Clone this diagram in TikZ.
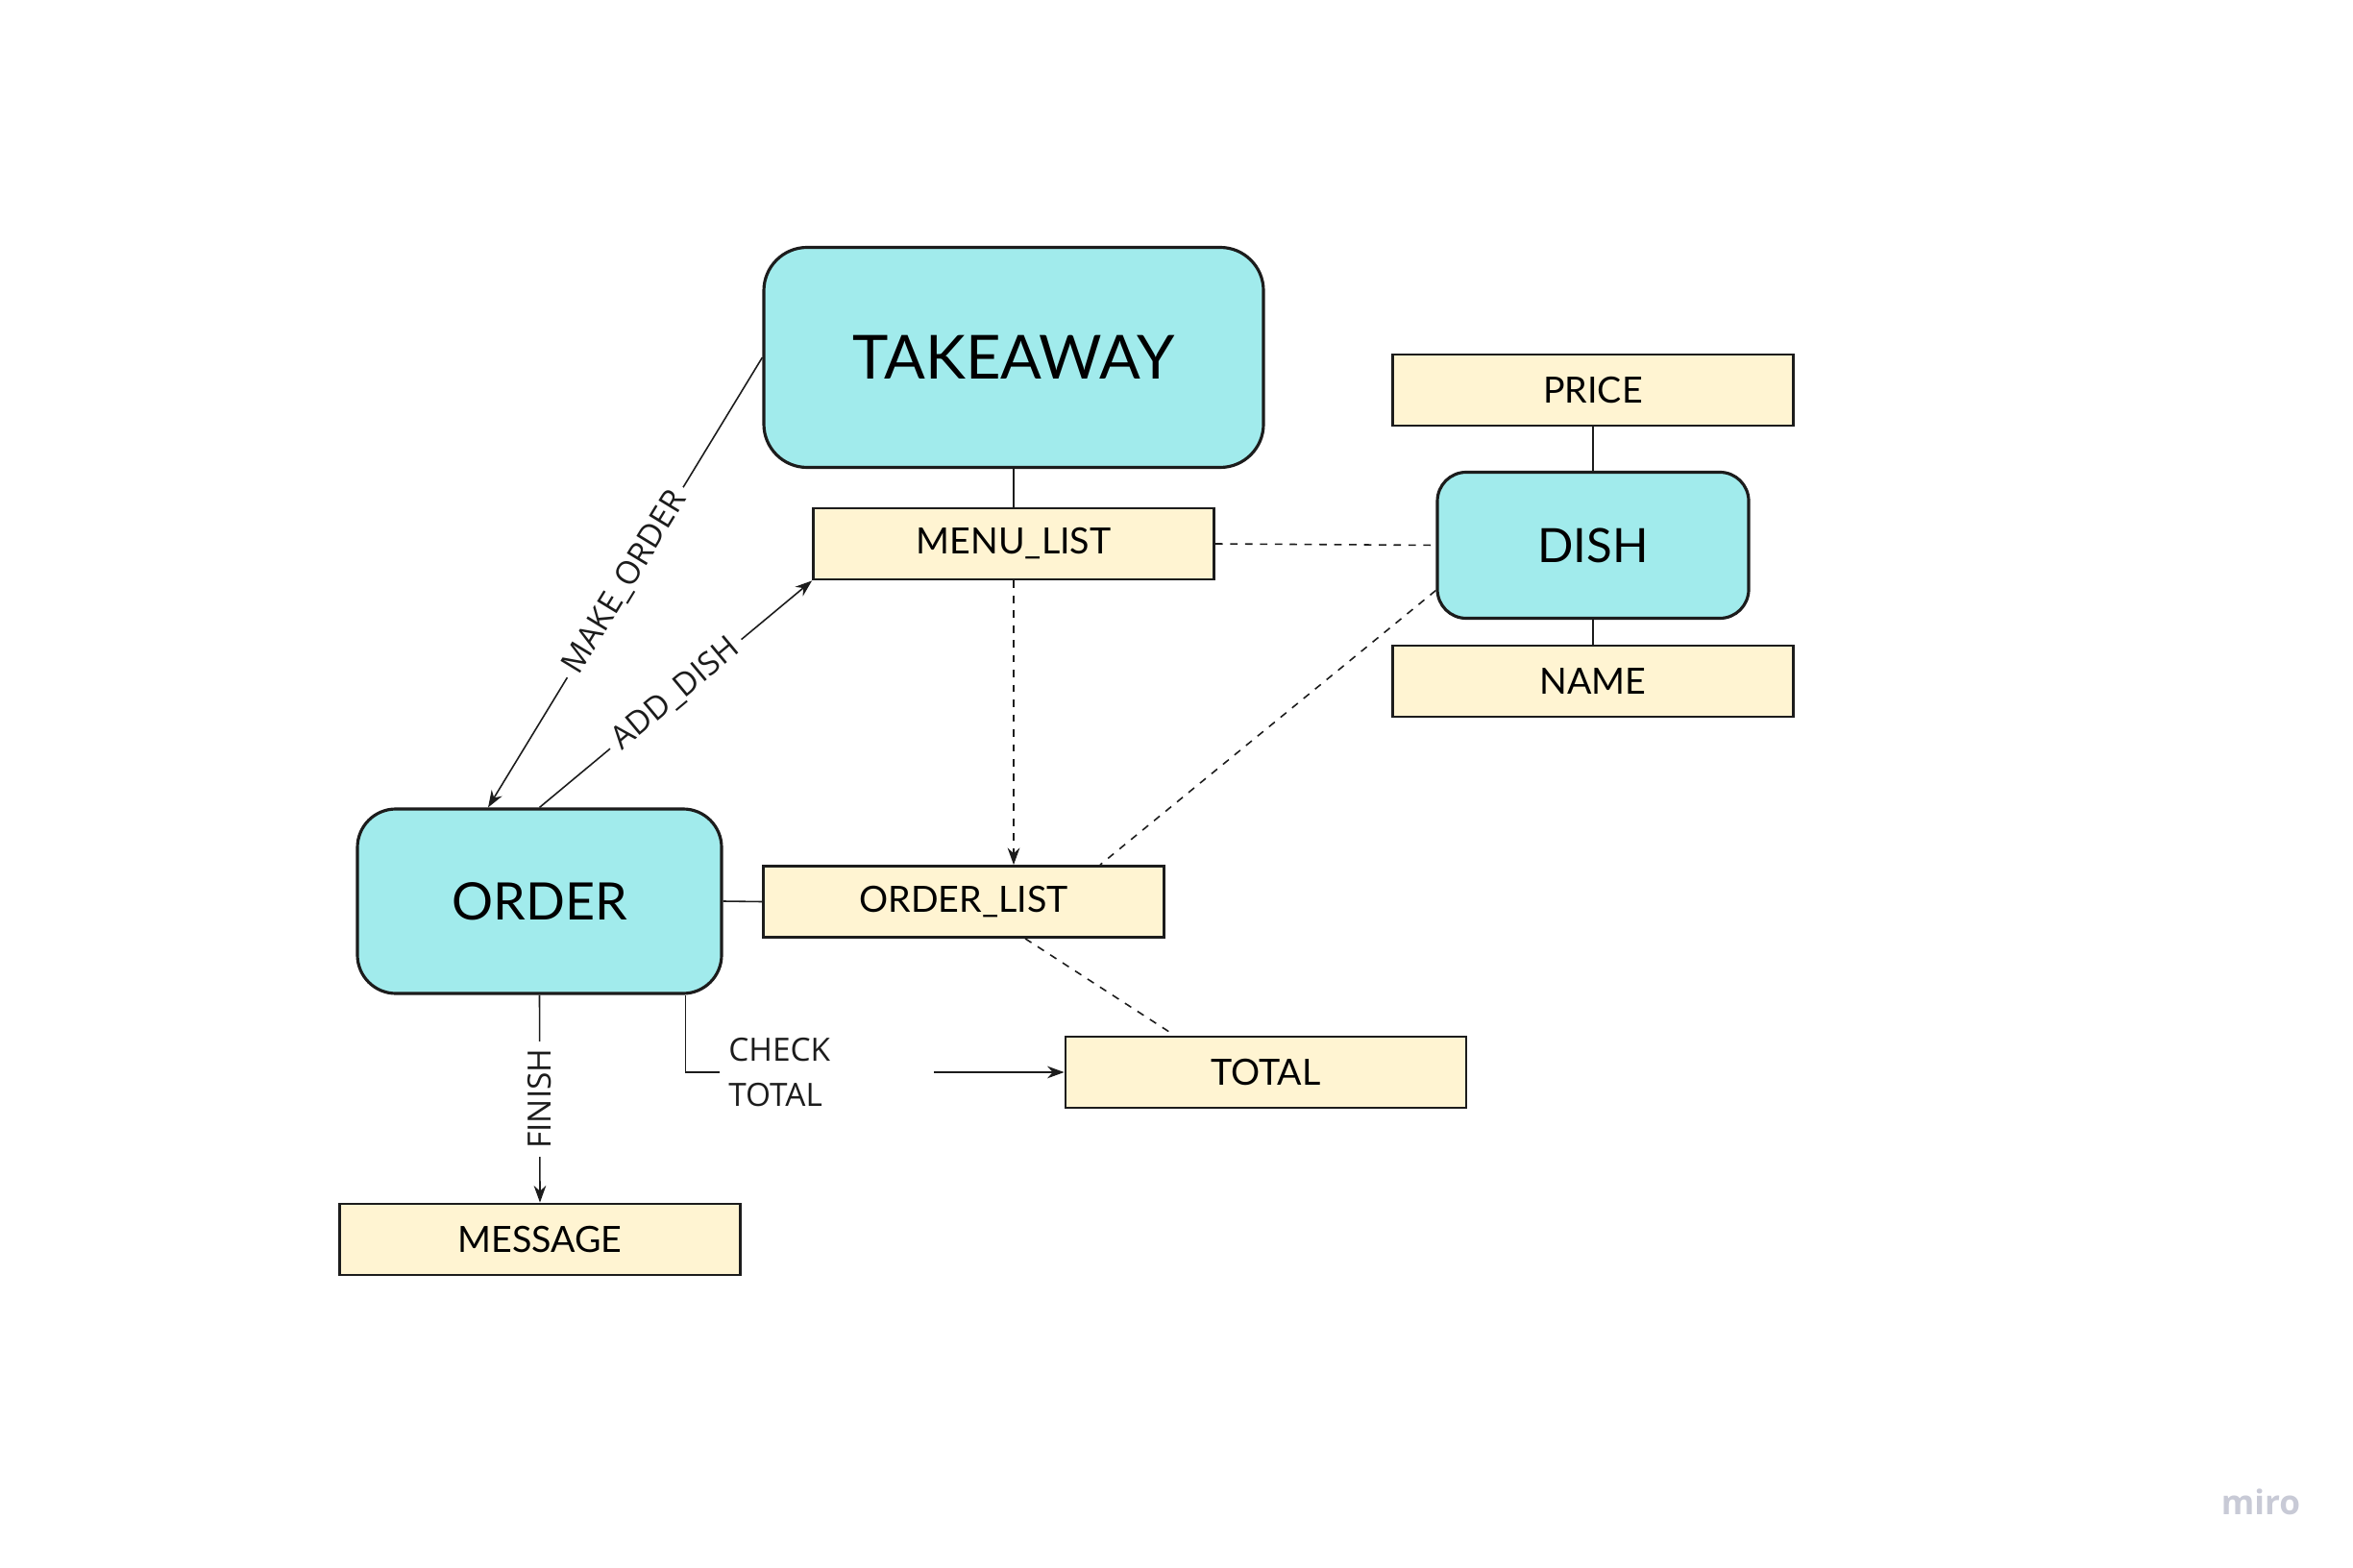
\documentclass[tikz,border=0pt]{standalone}
\usepackage{fontspec}
\setmainfont{Open Sans}
\newfontfamily\boxfont{Lato}
\usepackage{tikz}
\usetikzlibrary{arrows.meta, calc}

\definecolor{entitycyan}{RGB}{161,235,236}
\definecolor{fieldcream}{RGB}{255,244,210}
\definecolor{edgegray}{RGB}{28,28,28}
\definecolor{mirogray}{RGB}{200,202,214}

\begin{document}
\begin{tikzpicture}[
    entity/.style={draw=edgegray, line width=0.9pt, fill=entitycyan, inner sep=0pt, font=\boxfont},
    field/.style={draw=edgegray, line width=0.8pt, fill=fieldcream, inner sep=0pt,
        minimum width=4.17cm, minimum height=0.74cm, font=\boxfont\fontsize{10.7}{12}\selectfont},
    link/.style={line width=0.45pt, edgegray},
    weak/.style={line width=0.45pt, edgegray, dashed, dash pattern=on 2.2pt off 2.2pt},
    tip/.style={-{Stealth[length=5pt, width=3.6pt]}},
    lbl/.style={fill=white, inner sep=0.08cm, font=\fontsize{9.5}{11}\selectfont}
]
    % --- Canvas ---
    \useasboundingbox (0,0) rectangle (24.49,-16.32);

    % --- Top: Takeaway with its menu ---
    \node[entity, minimum width=5.2cm, minimum height=2.29cm, rounded corners=0.45cm,
        font=\boxfont\fontsize{18}{22}\selectfont] (takeaway) at (10.55,-3.72) {TAKEAWAY};
    \node[field] (menulist) at (10.55,-5.66) {MENU\_LIST};

    % --- Right: Dish and its fields ---
    \node[entity, minimum width=3.24cm, minimum height=1.52cm, rounded corners=0.3cm,
        font=\boxfont\fontsize{14}{17}\selectfont] (dish) at (16.58,-5.675) {DISH};
    \node[field] (price) at (16.58,-4.06) {PRICE};
    \node[field] (name) at (16.58,-7.09) {NAME};

    % --- Left: Order ---
    \node[entity, minimum width=3.79cm, minimum height=1.92cm, rounded corners=0.4cm,
        font=\boxfont\fontsize{15.3}{18}\selectfont] (order) at (5.615,-9.38) {ORDER};
    \node[field] (orderlist) at (10.03,-9.385) {ORDER\_LIST};
    \node[field] (total) at (13.175,-11.16) {TOTAL};
    \node[field] (message) at (5.62,-12.90) {MESSAGE};

    % --- Solid links ---
    \draw[link] (takeaway.south) -- (menulist.north);
    \draw[link] (price.south) -- (dish.north);
    \draw[link] (dish.south) -- (name.north);
    \draw[link] (order.east) -- (orderlist.west);

    % --- Dashed links ---
    \draw[weak] (menulist.east) -- (dish.west);
    \draw[weak, tip] (menulist.south) -- (menulist.south |- orderlist.north);
    \draw[weak] ([yshift=-0.47cm]dish.west) -- ([xshift=1.42cm]orderlist.north);
    \draw[weak] ([xshift=0.64cm]orderlist.south) -- ([xshift=-0.95cm]total.north);

    % --- Operations ---
    \draw[link, tip] (takeaway.west) -- node[lbl, sloped] {MAKE\_ORDER} ([xshift=-0.535cm]order.north);
    \draw[link, tip] (order.north) -- node[lbl, sloped] {ADD\_DISH} (menulist.south west);
    \draw[link, tip] (order.south) -- node[lbl, rotate=90] {FINISH} (message.north);
    \draw[link, tip] ([xshift=1.52cm]order.south) |- node[lbl, pos=0.687, text width=2.05cm, align=left,
        inner sep=0.09cm, font=\fontsize{9.5}{13.4}\selectfont] {CHECK\\TOTAL} (total.west);

    % --- Watermark ---
    \node[text=mirogray, font=\bfseries\fontsize{10}{12}\selectfont] (miro) at (23.53,-15.63) {miro};
\end{tikzpicture}
\end{document}
